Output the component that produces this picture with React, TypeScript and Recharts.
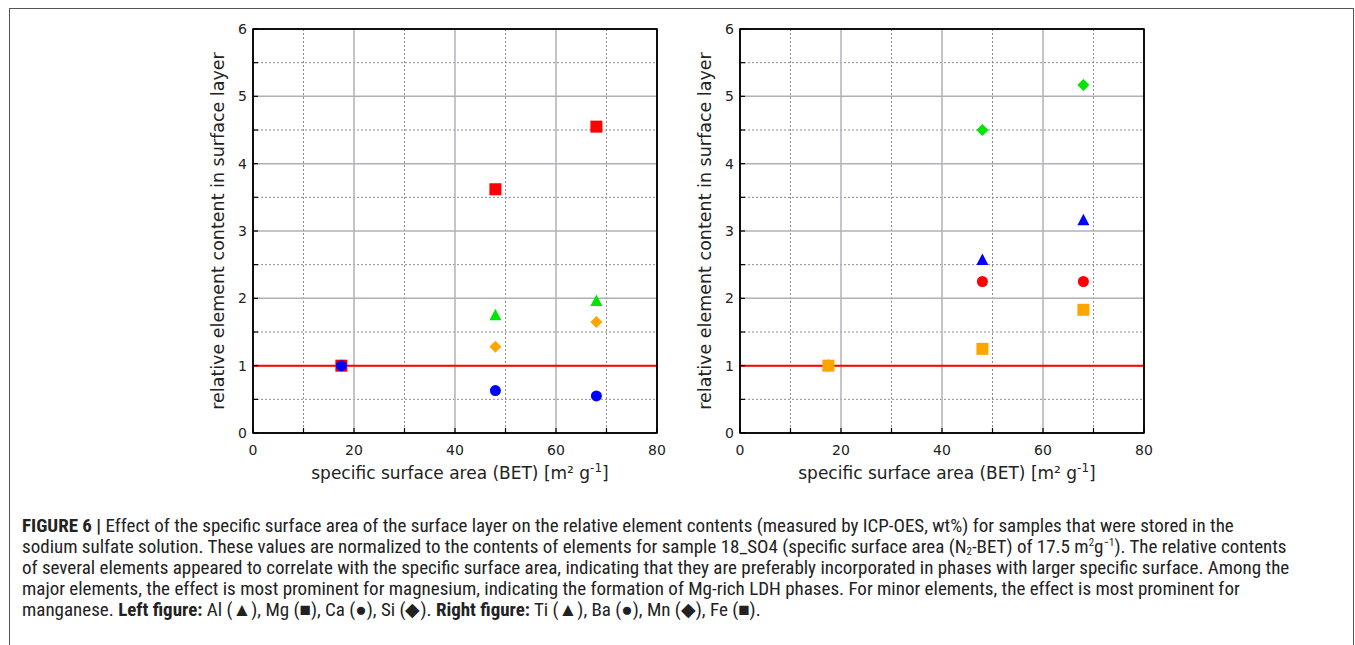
import React from "react";
import {
  ScatterChart,
  Scatter,
  XAxis,
  YAxis,
  CartesianGrid,
  ReferenceLine,
  ReferenceArea,
} from "recharts";

// x positions (specific surface area, BET, m2/g)
const bet = [17.5, 48, 68];

// left figure: major elements
const alValues = [1, 1.75, 1.96];
const mgValues = [1, 3.62, 4.55];
const caValues = [1, 0.63, 0.55];
const siValues = [1, 1.28, 1.65];

// right figure: minor elements
const tiValues = [1, 2.57, 3.16];
const baValues = [1, 2.25, 2.25];
const mnValues = [1, 4.5, 5.17];
const feValues = [1, 1.25, 1.83];

const xTicks = [0, 10, 20, 30, 40, 50, 60, 70, 80];
const yTicks = [0, 0.5, 1, 1.5, 2, 2.5, 3, 3.5, 4, 4.5, 5, 5.5, 6];
const xMajorGrid = [20, 40, 60];
const xMinorGrid = [10, 30, 50, 70];
const yMajorGrid = [1, 2, 3, 4, 5];
const yMinorGrid = [0.5, 1.5, 2.5, 3.5, 4.5, 5.5];

const toPoints = (vals: number[]) => bet.map((x, i) => ({ x, y: vals[i] }));

const RED = "#ff0000";
const GREEN = "#00e600";
const BLUE = "#0000ff";
const ORANGE = "#ffa500";
const TICK_FONT = "'DejaVu Sans', sans-serif";

const square = (color: string) => (p: any) => (
  <rect x={p.cx - 6} y={p.cy - 6} width={12} height={12} fill={color} />
);
const circle = (color: string) => (p: any) => (
  <circle cx={p.cx} cy={p.cy} r={5.5} fill={color} />
);
const triangle = (color: string) => (p: any) => (
  <path
    d={`M${p.cx},${p.cy - 6.5} L${p.cx + 6},${p.cy + 5} L${p.cx - 6},${p.cy + 5} Z`}
    fill={color}
  />
);
const diamond = (color: string) => (p: any) => (
  <path
    d={`M${p.cx},${p.cy - 6} L${p.cx + 6},${p.cy} L${p.cx},${p.cy + 6} L${p.cx - 6},${p.cy} Z`}
    fill={color}
  />
);

function LeftTick(props: any) {
  const { x, y, payload } = props;
  const major = Number.isInteger(payload.value);
  return (
    <g>
      <line x1={x + 6} x2={x + 11} y1={y} y2={y} stroke="#000" strokeWidth={1.2} />
      {major && (
        <text x={x} y={y} textAnchor="end" dominantBaseline="central" fontSize={14} fill="#222" fontFamily={TICK_FONT}>
          {payload.value}
        </text>
      )}
    </g>
  );
}

function RightTick(props: any) {
  const { x, y } = props;
  return <line x1={x} x2={x - 5} y1={y} y2={y} stroke="#000" strokeWidth={1.2} />;
}

function BottomTick(props: any) {
  const { x, y, payload } = props;
  const major = payload.value % 20 === 0;
  return (
    <g>
      <line x1={x} x2={x} y1={y - 12} y2={y - 17} stroke="#000" strokeWidth={1.2} />
      {major && (
        <text x={x} y={y} textAnchor="middle" dominantBaseline="hanging" fontSize={14} fill="#222" fontFamily={TICK_FONT}>
          {payload.value}
        </text>
      )}
    </g>
  );
}

function TopTick(props: any) {
  const { x, y } = props;
  return <line x1={x} x2={x} y1={y} y2={y + 5} stroke="#000" strokeWidth={1.2} />;
}

const xLabel = (props: any) => {
  const vb = props.viewBox;
  return (
    <text
      x={vb.x + vb.width / 2 + 5}
      y={vb.y + 46}
      textAnchor="middle"
      fontSize={17}
      fill="#222"
      fontFamily={TICK_FONT}
    >
      specific surface area (BET) [m² g
      <tspan dy={-7} fontSize={12}>-1</tspan>
      <tspan dy={7}>]</tspan>
    </text>
  );
};

const yLabel = (props: any) => {
  const vb = props.viewBox;
  const cx = vb.x + 25;
  const cy = vb.y + vb.height / 2;
  return (
    <text
      x={cx}
      y={cy}
      transform={`rotate(-90 ${cx} ${cy})`}
      textAnchor="middle"
      dominantBaseline="central"
      fontSize={17.5}
      fill="#222"
      fontFamily={TICK_FONT}
    >
      relative element content in surface layer
    </text>
  );
};

type Series = { vals: number[]; shape: (p: any) => React.ReactElement };

function Panel({ series }: { series: Series[] }) {
  return (
    <ScatterChart width={474} height={470} margin={{ top: 9, right: 9, left: 0, bottom: 0 }}>
      <CartesianGrid
        horizontalValues={yMinorGrid}
        verticalValues={xMinorGrid}
        stroke="#8c8c8c"
        strokeDasharray="2 2"
        strokeWidth={1}
      />
      <CartesianGrid
        horizontalValues={yMajorGrid}
        verticalValues={xMajorGrid}
        stroke="#b0b0b8"
        strokeWidth={1.5}
      />
      <XAxis
        dataKey="x"
        type="number"
        domain={[0, 80]}
        ticks={xTicks}
        interval={0}
        height={56}
        tickSize={0}
        tickMargin={12}
        tickLine={false}
        axisLine={{ stroke: "#000", strokeWidth: 1.5 }}
        tick={<BottomTick />}
        label={{ content: xLabel }}
      />
      <XAxis
        xAxisId="top"
        orientation="top"
        type="number"
        domain={[0, 80]}
        ticks={xTicks}
        interval={0}
        height={1}
        tickSize={0}
        tickMargin={0}
        tickLine={false}
        axisLine={{ stroke: "#000", strokeWidth: 1.5 }}
        tick={<TopTick />}
      />
      <YAxis
        dataKey="y"
        type="number"
        domain={[0, 6]}
        ticks={yTicks}
        interval={0}
        width={60}
        tickSize={0}
        tickMargin={6}
        tickLine={false}
        axisLine={{ stroke: "#000", strokeWidth: 1.5 }}
        tick={<LeftTick />}
        label={{ content: yLabel }}
      />
      <YAxis
        yAxisId="right"
        orientation="right"
        type="number"
        domain={[0, 6]}
        ticks={yTicks}
        interval={0}
        width={1}
        tickSize={0}
        tickMargin={0}
        tickLine={false}
        axisLine={{ stroke: "#000", strokeWidth: 1.5 }}
        tick={<RightTick />}
      />
      <ReferenceArea
        x1={0}
        x2={80}
        y1={0}
        y2={6}
        fill="none"
        fillOpacity={0}
        stroke="#000"
        strokeWidth={1.5}
        ifOverflow="visible"
      />
      <ReferenceLine y={1} stroke={RED} strokeWidth={2} />
      {series.map((s, i) => (
        <Scatter key={i} data={toPoints(s.vals)} shape={s.shape} isAnimationActive={false} />
      ))}
    </ScatterChart>
  );
}

const leftSeries: Series[] = [
  { vals: alValues, shape: triangle(GREEN) },
  { vals: siValues, shape: diamond(ORANGE) },
  { vals: mgValues, shape: square(RED) },
  { vals: caValues, shape: circle(BLUE) },
];

const rightSeries: Series[] = [
  { vals: tiValues, shape: triangle(BLUE) },
  { vals: baValues, shape: circle(RED) },
  { vals: mnValues, shape: diamond(GREEN) },
  { vals: feValues, shape: square(ORANGE) },
];

const captionFont = "'Liberation Sans Narrow', 'Roboto Condensed', 'Liberation Sans', sans-serif";
const supStyle: React.CSSProperties = {
  fontSize: 11,
  lineHeight: "11px",
  verticalAlign: "baseline",
  position: "relative",
  top: -7,
};
const subStyle: React.CSSProperties = {
  fontSize: 11,
  lineHeight: "11px",
  verticalAlign: "baseline",
  position: "relative",
  top: 2,
};

export default function App() {
  return (
    <div
      style={{
        position: "absolute",
        left: 0,
        top: 0,
        width: 1355,
        height: 645,
        overflow: "hidden",
        background: "#fff",
      }}
    >
      <div
        style={{
          position: "absolute",
          left: 9,
          top: 8,
          width: 1343,
          height: 700,
          border: "1px solid #555",
        }}
      />
      <div style={{ position: "absolute", left: 193, top: 19 }}>
        <Panel series={leftSeries} />
      </div>
      <div style={{ position: "absolute", left: 680, top: 19 }}>
        <Panel series={rightSeries} />
      </div>
      <div
        style={{
          position: "absolute",
          left: 22,
          top: 515,
          fontFamily: captionFont,
          fontSize: 19,
          lineHeight: "21px",
          color: "#222",
          whiteSpace: "nowrap",
        }}
      >
        <div>
          <b>FIGURE 6 |</b> Effect of the specific surface area of the surface layer on the relative element contents (measured by ICP-OES, wt%) for samples that were stored in the
        </div>
        <div>
          sodium sulfate solution. These values are normalized to the contents of elements for sample 18_SO4 (specific surface area (N<span style={subStyle}>2</span>-BET) of 17.5 m<span style={supStyle}>2</span>g<span style={supStyle}>−1</span>). The relative contents
        </div>
        <div>
          of several elements appeared to correlate with the specific surface area, indicating that they are preferably incorporated in phases with larger specific surface. Among the
        </div>
        <div>
          major elements, the effect is most prominent for magnesium, indicating the formation of Mg-rich LDH phases. For minor elements, the effect is most prominent for
        </div>
        <div>
          manganese. <b>Left figure:</b> Al (▲), Mg (■), Ca (●), Si (◆). <b>Right figure:</b> Ti (▲), Ba (●), Mn (◆), Fe (■).
        </div>
      </div>
    </div>
  );
}
